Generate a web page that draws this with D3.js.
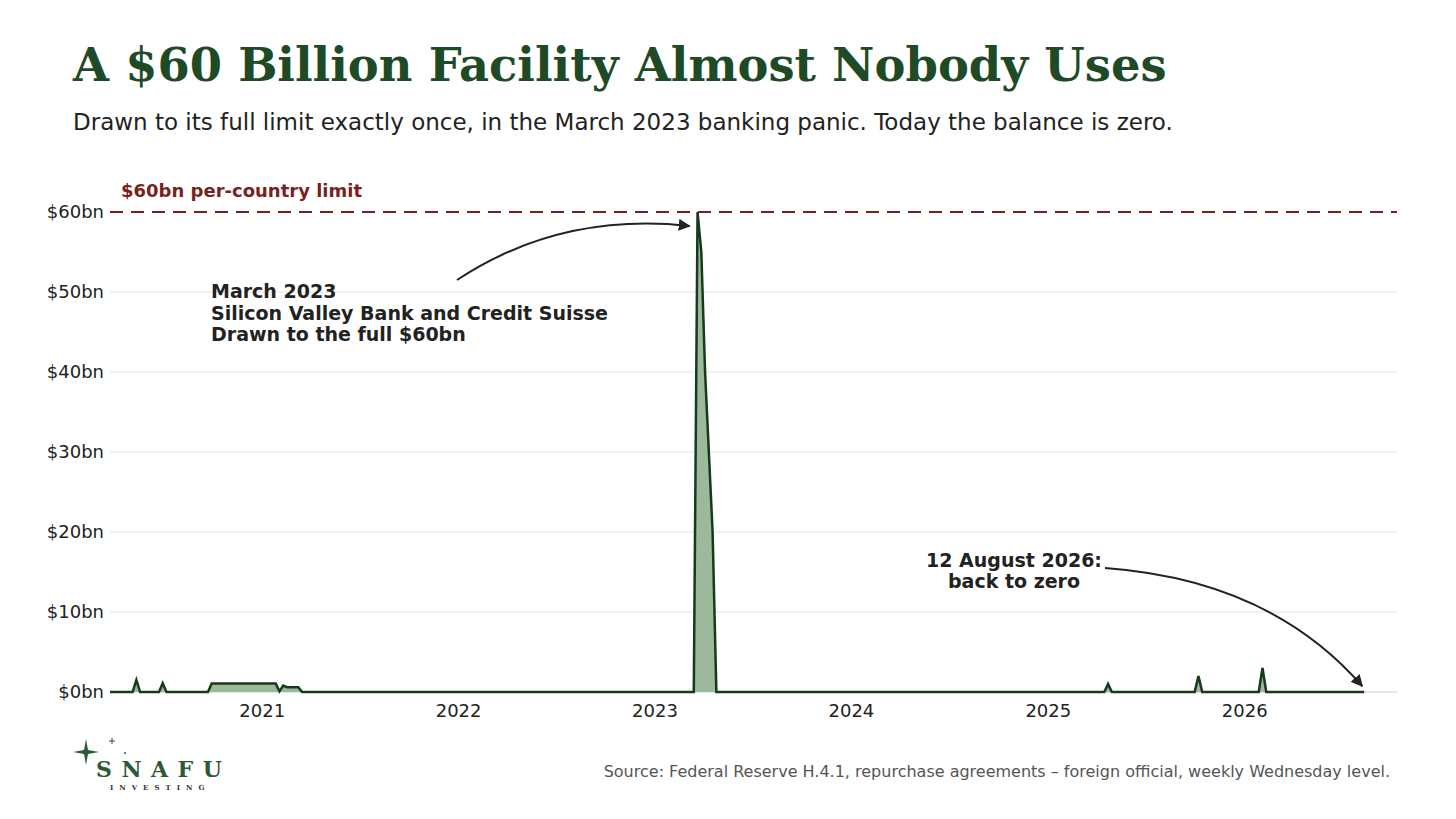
<!DOCTYPE html>
<html>
<head>
<meta charset="utf-8">
<script src="https://cdn.jsdelivr.net/npm/d3@7"></script>
<style>
  body { margin: 0; background: #fff; }
  svg { display: block; }
  .tick text { font-family: "DejaVu Sans", sans-serif; font-size: 18px; fill: #222; }
</style>
</head>
<body>
<div id="chart"></div>
<script>
// weekly Wednesday levels, only the weeks where the balance changes
var dates = [
  "2020-03-25", "2020-05-06", "2020-05-13", "2020-05-20",
  "2020-06-24", "2020-07-01", "2020-07-08",
  "2020-09-23", "2020-09-30", "2021-01-27", "2021-02-03", "2021-02-10", "2021-02-17", "2021-03-10", "2021-03-17",
  "2023-03-15", "2023-03-22", "2023-03-29", "2023-04-05", "2023-04-12", "2023-04-19", "2023-04-26",
  "2025-04-16", "2025-04-23", "2025-04-30",
  "2025-10-01", "2025-10-08", "2025-10-15",
  "2026-01-28", "2026-02-04", "2026-02-11",
  "2026-08-12"
];
var balances = [
  0, 0, 1.5, 0,
  0, 1.1, 0,
  0, 1.05, 1.05, 0.1, 0.8, 0.6, 0.6, 0,
  0, 60, 55, 40, 30, 20, 0,
  0, 1.0, 0,
  0, 2.0, 0,
  0, 3.0, 0,
  0
];
var yearTicks = ["2021", "2022", "2023", "2024", "2025", "2026"];
var yTicks = [0, 10, 20, 30, 40, 50, 60];
var limit = 60;
var xStart = "2020-03-25", xEnd = "2026-10-12";

var svgWidth = 1456;
var svgHeight = 819;
var margin = { top: 212, right: 59, bottom: 127, left: 110 };
var width = svgWidth - margin.left - margin.right;
var height = svgHeight - margin.top - margin.bottom;

var parse = d3.timeParse("%Y-%m-%d");
var data = dates.map(function(d, i) { return { date: parse(d), value: balances[i] }; });

var svg = d3.select("#chart").append("svg")
  .attr("width", svgWidth)
  .attr("height", svgHeight);

// title + subtitle
svg.append("text")
  .attr("x", 73).attr("y", 81)
  .attr("font-family", "DejaVu Serif, serif")
  .attr("font-weight", "bold")
  .attr("font-size", 46.4)
  .attr("fill", "#1e4a26")
  .text("A $60 Billion Facility Almost Nobody Uses");

svg.append("text")
  .attr("x", 73).attr("y", 130)
  .attr("font-family", "DejaVu Sans, sans-serif")
  .attr("font-size", 23)
  .attr("fill", "#222")
  .text("Drawn to its full limit exactly once, in the March 2023 banking panic. Today the balance is zero.");

var chartGroup = svg.append("g")
  .attr("transform", `translate(${margin.left}, ${margin.top})`);

var xScale = d3.scaleTime()
  .domain([parse(xStart), parse(xEnd)])
  .range([0, width]);

var yScale = d3.scaleLinear()
  .domain([0, 60])
  .range([height, 0]);

// gridlines
chartGroup.selectAll("line.grid")
  .data(yTicks.filter(function(t) { return t < limit; }))
  .enter()
  .append("line")
  .attr("class", "grid")
  .attr("x1", 0).attr("x2", width)
  .attr("y1", d => yScale(d)).attr("y2", d => yScale(d))
  .attr("stroke", d => d === 0 ? "#cfcfcf" : "#e3e3e3")
  .attr("stroke-width", 1);

// axes
var xAxis = d3.axisBottom(xScale)
  .tickValues(yearTicks.map(function(y) { return parse(y + "-01-01"); }))
  .tickFormat(d3.timeFormat("%Y"))
  .tickSize(0)
  .tickPadding(12);

var yAxis = d3.axisLeft(yScale)
  .tickValues(yTicks)
  .tickFormat(d => "$" + d + "bn")
  .tickSize(0)
  .tickPadding(6);

chartGroup.append("g")
  .attr("transform", `translate(0, ${height})`)
  .call(xAxis)
  .call(g => g.select(".domain").remove());

chartGroup.append("g")
  .call(yAxis)
  .call(g => g.select(".domain").remove());

// limit line
chartGroup.append("line")
  .attr("x1", 0).attr("x2", width)
  .attr("y1", yScale(limit)).attr("y2", yScale(limit))
  .attr("stroke", "#7a1f1f")
  .attr("stroke-width", 2)
  .attr("stroke-dasharray", "13,8");

chartGroup.append("text")
  .attr("x", 11).attr("y", yScale(limit) - 15)
  .attr("font-family", "DejaVu Sans, sans-serif")
  .attr("font-weight", "bold")
  .attr("font-size", 18)
  .attr("fill", "#7a1f1f")
  .text("$60bn per-country limit");

// area + line
var area = d3.area()
  .x(d => xScale(d.date))
  .y0(yScale(0))
  .y1(d => yScale(d.value));

var line = d3.line()
  .x(d => xScale(d.date))
  .y(d => yScale(d.value));

chartGroup.append("path")
  .datum(data)
  .attr("d", area)
  .attr("fill", "#9cb99b");

chartGroup.append("path")
  .datum(data)
  .attr("d", line)
  .attr("fill", "none")
  .attr("stroke", "#173a1d")
  .attr("stroke-width", 2.5)
  .attr("stroke-linejoin", "miter");

// arrowhead
svg.append("defs").append("marker")
  .attr("id", "arrow")
  .attr("viewBox", "0 0 10 10")
  .attr("refX", 9).attr("refY", 5)
  .attr("markerWidth", 6).attr("markerHeight", 6)
  .attr("markerUnits", "strokeWidth")
  .attr("orient", "auto")
  .append("path")
  .attr("d", "M0,0 L10,5 L0,10 z")
  .attr("fill", "#222");

// annotation: March 2023
var peak = data[16];
var px = xScale(peak.date) + margin.left, py = yScale(peak.value) + margin.top;
svg.append("path")
  .attr("d", `M457,280 Q560,212 ${px - 8},${py + 14}`)
  .attr("fill", "none")
  .attr("stroke", "#222")
  .attr("stroke-width", 2)
  .attr("marker-end", "url(#arrow)");

var note1 = svg.append("text")
  .attr("font-family", "DejaVu Sans, sans-serif")
  .attr("font-weight", "bold")
  .attr("font-size", 19)
  .attr("fill", "#222");
["March 2023", "Silicon Valley Bank and Credit Suisse", "Drawn to the full $60bn"].forEach(function(t, i) {
  note1.append("tspan").attr("x", 211).attr("y", 298 + i * 21.5).text(t);
});

// annotation: back to zero
var last = data[data.length - 1];
var lx = xScale(last.date) + margin.left, ly = yScale(last.value) + margin.top;
svg.append("path")
  .attr("d", `M1105,568 Q1270,580 ${lx - 2},${ly - 6}`)
  .attr("fill", "none")
  .attr("stroke", "#222")
  .attr("stroke-width", 2)
  .attr("marker-end", "url(#arrow)");

var note2 = svg.append("text")
  .attr("font-family", "DejaVu Sans, sans-serif")
  .attr("font-weight", "bold")
  .attr("font-size", 19)
  .attr("fill", "#222")
  .attr("text-anchor", "middle");
["12 August 2026:", "back to zero"].forEach(function(t, i) {
  note2.append("tspan").attr("x", 1014).attr("y", 567 + i * 21).text(t);
});

// source
svg.append("text")
  .attr("x", 1390).attr("y", 777)
  .attr("text-anchor", "end")
  .attr("font-family", "DejaVu Sans, sans-serif")
  .attr("font-size", 16)
  .attr("fill", "#555")
  .text("Source: Federal Reserve H.4.1, repurchase agreements \u2013 foreign official, weekly Wednesday level.");

// logo
var logo = svg.append("g").attr("fill", "#2d5a34");
logo.append("path")
  .attr("d", "M86,739 L88,750 L99,752 L88,754 L86,765 L84,754 L73,752 L84,750 Z");
logo.append("path")
  .attr("d", "M112,738 v6 M109,741 h6")
  .attr("stroke", "#2d5a34").attr("stroke-width", 1);
logo.append("circle").attr("cx", 125).attr("cy", 753).attr("r", 1);
logo.append("text")
  .attr("x", 96).attr("y", 777)
  .attr("font-family", "DejaVu Serif, serif")
  .attr("font-weight", "bold")
  .attr("font-size", 22)
  .attr("letter-spacing", 9.5)
  .text("SNAFU");
logo.append("text")
  .attr("x", 110).attr("y", 790)
  .attr("font-family", "DejaVu Serif, serif")
  .attr("font-weight", "bold")
  .attr("font-size", 7)
  .attr("letter-spacing", 6)
  .attr("fill", "#333")
  .text("INVESTING");
</script>
</body>
</html>
